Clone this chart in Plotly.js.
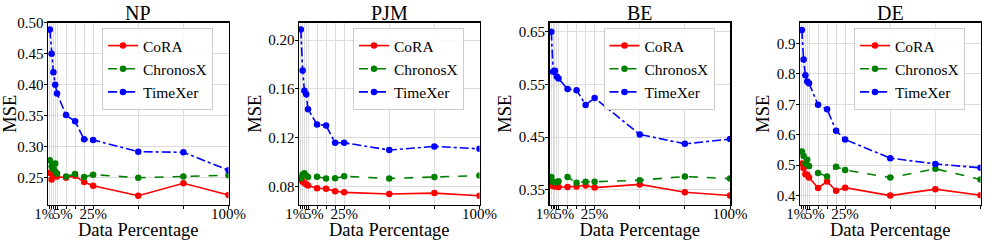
<!DOCTYPE html>
<html>
<head>
<meta charset="utf-8">
<script src="https://cdn.plot.ly/plotly-3.0.1.min.js"></script>
<style>html,body{margin:0;padding:0;background:#fff;}#chart{width:997px;height:240px;}</style>
</head>
<body>
<div id="chart"></div>
<script>
const dataPct = [1, 2, 3, 4, 5, 10, 15, 20, 25, 50, 75, 100];
const tickLabels = ["1%\u00a0\u00a0\u00a0", "", "", "", "\u00a0\u00a0\u00a05%", "", "", "", "25%", "", "", "100%"];
const datasets = ["NP", "PJM", "BE", "DE"];
const seriesNames = ["CoRA", "ChronosX", "TimeXer"];

const npCoRA     = [0.258, 0.247, 0.253, 0.260, 0.252, 0.250, 0.253, 0.243, 0.237, 0.221, 0.241, 0.222];
const npChronosX = [0.278, 0.268, 0.263, 0.273, 0.257, 0.252, 0.256, 0.251, 0.255, 0.250, 0.252, 0.254];
const npTimeXer  = [0.489, 0.450, 0.420, 0.400, 0.386, 0.351, 0.341, 0.312, 0.311, 0.292, 0.291, 0.262];

const pjmCoRA     = [0.086, 0.084, 0.083, 0.082, 0.081, 0.0787, 0.0784, 0.0764, 0.0754, 0.0740, 0.0748, 0.0726];
const pjmChronosX = [0.087, 0.090, 0.091, 0.089, 0.088, 0.0882, 0.0868, 0.0870, 0.0885, 0.0868, 0.0880, 0.0891];
const pjmTimeXer  = [0.2087, 0.1750, 0.1585, 0.1556, 0.1433, 0.131, 0.130, 0.116, 0.116, 0.110, 0.113, 0.111];

const beCoRA     = [0.358, 0.357, 0.356, 0.357, 0.355, 0.355, 0.356, 0.358, 0.354, 0.360, 0.345, 0.339];
const beChronosX = [0.374, 0.365, 0.364, 0.364, 0.366, 0.374, 0.363, 0.365, 0.365, 0.368, 0.375, 0.371];
const beTimeXer  = [0.650, 0.574, 0.576, 0.565, 0.561, 0.541, 0.539, 0.511, 0.524, 0.455, 0.437, 0.446];

const deCoRA     = [0.505, 0.490, 0.470, 0.468, 0.459, 0.425, 0.446, 0.416, 0.426, 0.400, 0.421, 0.401];
const deChronosX = [0.545, 0.530, 0.505, 0.518, 0.497, 0.474, 0.463, 0.495, 0.484, 0.459, 0.488, 0.453];
const deTimeXer  = [0.944, 0.847, 0.795, 0.775, 0.769, 0.698, 0.684, 0.613, 0.584, 0.523, 0.504, 0.491];

const allSeries = [
  [npCoRA, npChronosX, npTimeXer],
  [pjmCoRA, pjmChronosX, pjmTimeXer],
  [beCoRA, beChronosX, beTimeXer],
  [deCoRA, deChronosX, deTimeXer]
];

const W = 997, H = 240;
const lefts = [48, 299, 549.5, 800];
const plotW = 180.5;
const topPx = 22.7, botPx = 204.7;
const yRanges = [[0.2065, 0.50], [0.0653, 0.2142], [0.3215, 0.667], [0.370, 0.968]];
const yTicks = [[0.25, 0.30, 0.35, 0.40, 0.45, 0.50], [0.08, 0.12, 0.16, 0.20], [0.35, 0.45, 0.55, 0.65], [0.4, 0.5, 0.6, 0.7, 0.8, 0.9]];
const yFmt = [".2f", ".2f", ".2f", ".1f"];

const colors = ["#ff0000", "#008000", "#0000ff"];
const dashes = ["solid", "dash", "dashdot"];
const FONT = "'Liberation Serif', 'Times New Roman', serif";

const traces = [];
const layout = {
  width: W, height: H,
  margin: {l: 0, r: 0, t: 0, b: 0},
  paper_bgcolor: "#fff", plot_bgcolor: "#fff",
  font: {family: FONT, color: "#000", size: 14},
  showlegend: true,
  annotations: [],
  shapes: []
};

for (let i = 0; i < 4; i++) {
  const sfx = i === 0 ? "" : String(i + 1);
  const legName = "legend" + sfx;
  for (let s = 0; s < 3; s++) {
    traces.push({
      x: dataPct, y: allSeries[i][s],
      type: "scatter", mode: "lines+markers",
      name: seriesNames[s],
      xaxis: "x" + sfx, yaxis: "y" + sfx,
      legend: legName,
      line: {color: colors[s], width: 1.6, dash: dashes[s]},
      marker: {color: colors[s], size: 6.5}
    });
  }
  const x0 = lefts[i] / W, x1 = (lefts[i] + plotW) / W;
  layout["xaxis" + sfx] = {
    domain: [x0, x1], range: [0, 100], anchor: "y" + sfx,
    tickmode: "array", tickvals: dataPct, ticktext: tickLabels, tickangle: 0,
    ticks: "outside", ticklen: 3, tickwidth: 1, tickcolor: "#000",
    ticklabelstandoff: -8,
    showgrid: true, gridcolor: "#dcdcdc", gridwidth: 1,
    showline: true, linecolor: "#000", linewidth: 1.5, mirror: true,
    zeroline: false,
    tickfont: {family: FONT, size: 15, color: "#000"},
    title: {text: "Data Percentage", font: {family: FONT, size: 18.5, color: "#000"}, standoff: 0}
  };
  layout["yaxis" + sfx] = {
    domain: [1 - botPx / H, 1 - topPx / H], range: yRanges[i], anchor: "x" + sfx,
    tickmode: "array", tickvals: yTicks[i], tickformat: yFmt[i],
    ticks: "outside", ticklen: 3, tickwidth: 1, tickcolor: "#000",
    ticklabelstandoff: -3,
    showgrid: true, gridcolor: "#dcdcdc", gridwidth: 1,
    showline: true, linecolor: "#000", linewidth: 1.5, mirror: true,
    zeroline: false,
    tickfont: {family: FONT, size: 15, color: "#000"},
    title: {text: "MSE", font: {family: FONT, size: 18.5, color: "#000"}, standoff: 2}
  };
  layout[legName] = {
    x: (lefts[i] + 54) / W, y: 1 - 28 / H, xanchor: "left", yanchor: "top",
    bgcolor: "rgba(255,255,255,0.85)", bordercolor: "#cccccc", borderwidth: 1,
    font: {family: FONT, size: 15.5, color: "#000"},
    tracegroupgap: 0, itemwidth: 30
  };
  layout.annotations.push({
    text: datasets[i], xref: "paper", yref: "paper",
    x: (lefts[i] + plotW / 2) / W, y: 1 - 12.8 / H, xanchor: "center", yanchor: "middle",
    showarrow: false, font: {family: FONT, size: 20, color: "#000"}
  });
}

Plotly.newPlot("chart", traces, layout, {displayModeBar: false, staticPlot: true});
</script>
</body>
</html>
